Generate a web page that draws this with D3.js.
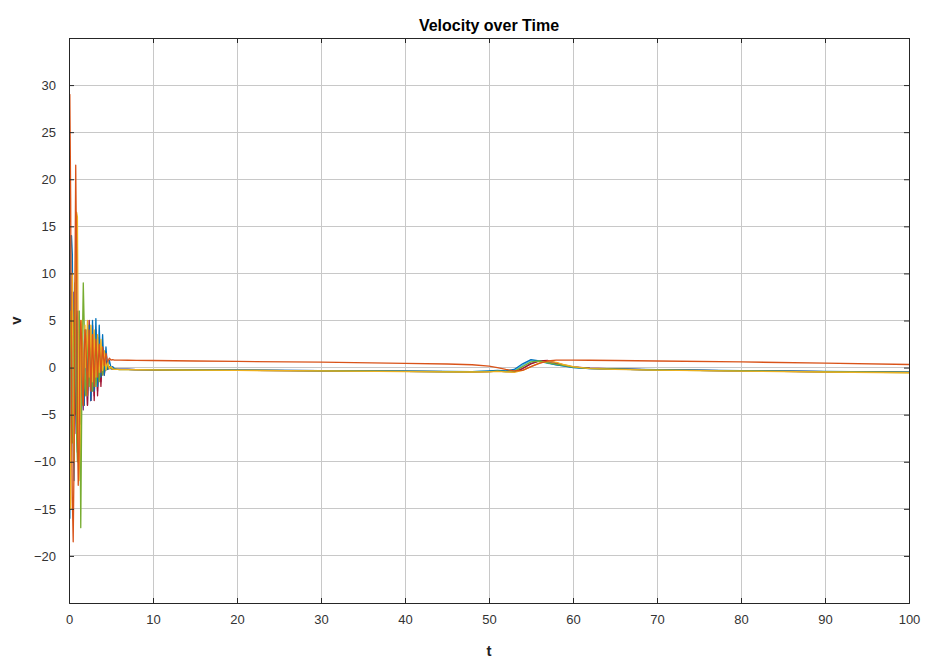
<!DOCTYPE html>
<html>
<head>
<meta charset="utf-8">
<script src="https://cdn.jsdelivr.net/npm/d3@7"></script>
<style>
  html, body { margin: 0; padding: 0; background: #fff; }
  svg { display: block; font-family: "Liberation Sans", Arial, Helvetica, sans-serif; }
</style>
</head>
<body>
<svg id="chart" width="927" height="659"></svg>
<script>
// Sample times: dense during the initial transient, sparse afterwards
const tEarly = [0, 0.1, 0.2, 0.3, 0.4, 0.5, 0.6, 0.7, 0.8, 0.9, 1.0, 1.1, 1.2, 1.3, 1.4, 1.5, 1.6, 1.7, 1.8, 1.9, 2.0,
  2.2, 2.4, 2.6, 2.8, 3.0, 3.2, 3.4, 3.6, 3.8, 4.0, 4.2, 4.4, 4.6, 4.8, 5.0, 5.2, 5.4, 5.6, 5.8, 6.0];
const tLate = [7, 8, 10, 15, 20, 30, 40, 45, 48, 50, 51, 52, 53, 54, 55, 56, 57, 58, 59, 60, 62, 65, 70, 80, 90, 100];

// Velocity of each agent at the sample times above (early part, then late part)
const v1Early = [0, -16, 14, 14, 12, -8, -12, 6, 10, -6, -9, 4, 6, -3, -6, 3, 4, -2, -4, 3, 4,
  -3, 4.5, -3.5, 5, -2.5, 5.2, -2, 4.5, -1, 3.5, -0.8, 2.2, -0.2, 0.8, 0.0, 0.1, -0.1, -0.15, -0.18, -0.2];
const v1Late = [-0.2, -0.21, -0.22, -0.25, -0.27, -0.32, -0.38, -0.41, -0.42, -0.35, -0.3, -0.35, -0.2, 0.4, 0.85, 0.7, 0.5, 0.3, 0.15, 0.0, -0.1, -0.15, -0.22, -0.32, -0.41, -0.48];

const v2Early = [0, 29, 18, -5, -14, -18.5, -10, 8, 21.5, 12, -6, -12.5, -9, 2, 5, 3, -3, -4, 1, 4, 3,
  -3, 4, -2.5, 3.5, -2, 3, -1, 2.5, -0.5, 2.2, 0.2, 1.5, 0.6, 1.0, 0.8, 0.85, 0.8, 0.8, 0.8, 0.8];
const v2Late = [0.78, 0.77, 0.75, 0.7, 0.65, 0.57, 0.45, 0.38, 0.3, 0.15, 0.0, -0.2, -0.35, -0.3, 0.1, 0.45, 0.7, 0.8, 0.8, 0.8, 0.78, 0.75, 0.7, 0.6, 0.47, 0.33];

const v3Early = [0, -12, -15, 6, 10, -4, -10, 4, 14, 16.5, 16, 2, -12, -8, 3, 5, -1, -3, 2, 4.5, 0,
  5, -1, 4.5, -1.5, 4, -1, 3.5, -0.5, 3, -0.3, 1.8, -0.2, 0.6, -0.1, 0.1, -0.15, -0.18, -0.2, -0.2, -0.22];
const v3Late = [-0.22, -0.23, -0.25, -0.28, -0.3, -0.35, -0.42, -0.45, -0.47, -0.45, -0.4, -0.45, -0.5, -0.3, 0.1, 0.5, 0.65, 0.55, 0.3, 0.1, -0.1, -0.2, -0.28, -0.38, -0.47, -0.55];

const v4Early = [0, 5, -8, -4, 6, 8, -2, -7, -3, 5, 6, -2, -5, -1, 4, 4, -3, -4.5, 1, 4, 2,
  -4, 3, -3.5, 3, -3, 2.5, -2.5, 2, -1.5, 1.2, -0.6, 0.6, -0.2, 0.1, -0.1, -0.12, -0.15, -0.17, -0.18, -0.2];
const v4Late = [-0.2, -0.21, -0.23, -0.26, -0.28, -0.33, -0.4, -0.43, -0.44, -0.4, -0.35, -0.4, -0.42, -0.1, 0.45, 0.7, 0.6, 0.4, 0.2, 0.05, -0.08, -0.16, -0.24, -0.34, -0.43, -0.5];

const v5Early = [0, 3, 6, -3, -8, -4, 5, 9, 3, -7, -10, -3, 6, -4, -17, -6, 3, 9, 5, -2, -3,
  4, -2, 3.5, -2.5, 3, -2, 2.5, -1.5, 2, -0.8, 1.2, -0.3, 0.4, -0.1, -0.05, -0.15, -0.18, -0.2, -0.2, -0.22];
const v5Late = [-0.22, -0.22, -0.24, -0.27, -0.29, -0.34, -0.41, -0.44, -0.45, -0.42, -0.38, -0.43, -0.4, 0.1, 0.6, 0.7, 0.5, 0.35, 0.2, 0.05, -0.08, -0.17, -0.26, -0.36, -0.45, -0.52];

const v6Early = [0, -4, 3, 8, 2, -6, -3, 4, 3, -4, -2, 3, 2, -2, -3, 2, 3, -1, -2.5, 1, 2.5,
  -1.5, 3, -1.5, 2.5, -1, 2, -0.5, 1.5, -0.3, 0.8, -0.2, 0.3, -0.1, -0.1, -0.12, -0.14, -0.16, -0.18, -0.19, -0.2];
const v6Late = [-0.2, -0.21, -0.23, -0.26, -0.28, -0.33, -0.39, -0.42, -0.43, -0.38, -0.33, -0.38, -0.3, 0.25, 0.75, 0.65, 0.45, 0.3, 0.15, 0.02, -0.1, -0.16, -0.24, -0.34, -0.43, -0.5];

const v7Early = [0, 2, -3, -6, 1, 5, 2, -4, -5, 0, 4, 3, -3, -4.5, 0, 4, 2, -4, -4, 1, 4,
  -4, 5, -3.5, 4.5, -3.5, 4, -3, 3.2, -2, 2, -0.8, 0.8, -0.2, 0.1, -0.12, -0.15, -0.17, -0.18, -0.2, -0.2];
const v7Late = [-0.2, -0.21, -0.23, -0.26, -0.29, -0.34, -0.4, -0.43, -0.44, -0.42, -0.38, -0.42, -0.45, -0.1, 0.4, 0.7, 0.75, 0.5, 0.25, 0.08, -0.06, -0.15, -0.24, -0.35, -0.44, -0.51];

const seriesColors = ["#0072BD", "#D95319", "#EDB120", "#7E2F8E", "#77AC30", "#4DBEEE", "#A2142F"];
const seriesValues = [
  [v1Early, v1Late], [v2Early, v2Late], [v3Early, v3Late], [v4Early, v4Late],
  [v5Early, v5Late], [v6Early, v6Late], [v7Early, v7Late]
];
// Stacking order of the lines (first drawn sits at the bottom)
const drawOrder = [3, 5, 6, 0, 4, 2, 1];

const xTicks = [0, 10, 20, 30, 40, 50, 60, 70, 80, 90, 100];
const yTicks = [-20, -15, -10, -5, 0, 5, 10, 15, 20, 25, 30];

const titleText = "Velocity over Time";
const xLabelText = "t";
const yLabelText = "v";

const width = 927, height = 659;
const margin = { top: 38, right: 18, bottom: 56, left: 69 };
const innerW = width - margin.left - margin.right;
const innerH = height - margin.top - margin.bottom;

const svg = d3.select("#chart");
const g = svg.append("g").attr("transform", `translate(${margin.left},${margin.top})`);

const x = d3.scaleLinear().domain([0, 100]).range([0, innerW]);
const y = d3.scaleLinear().domain([-25, 35]).range([innerH, 0]);

// Grid
g.append("g").selectAll("line").data(xTicks).join("line")
  .attr("x1", d => x(d)).attr("x2", d => x(d))
  .attr("y1", 0).attr("y2", innerH)
  .attr("stroke", "#c8c8c8").attr("stroke-width", 1).attr("shape-rendering", "crispEdges");
g.append("g").selectAll("line").data(yTicks).join("line")
  .attr("x1", 0).attr("x2", innerW)
  .attr("y1", d => y(d)).attr("y2", d => y(d))
  .attr("stroke", "#c8c8c8").attr("stroke-width", 1).attr("shape-rendering", "crispEdges");

// Series lines
const line = d3.line().x(d => x(d[0])).y(d => y(d[1]));
svg.append("clipPath").attr("id", "plotClip")
  .append("rect").attr("width", innerW).attr("height", innerH);
const linesG = g.append("g").attr("clip-path", "url(#plotClip)");
drawOrder.forEach(i => {
  const pair = seriesValues[i];
  const pts = tEarly.map((t, k) => [t, pair[0][k]]).concat(tLate.map((t, k) => [t, pair[1][k]]));
  linesG.append("path")
    .datum(pts)
    .attr("d", line)
    .attr("fill", "none")
    .attr("stroke", seriesColors[i])
    .attr("stroke-width", 1.3)
    .attr("stroke-linejoin", "round");
});

// Axes (ticks point inward, box around the plot)
const axisColor = "#262626";
const xAxisB = g.append("g").attr("transform", `translate(0,${innerH})`)
  .call(d3.axisBottom(x).tickValues(xTicks).tickSize(-5).tickPadding(12).tickFormat(d3.format("d")));
const xAxisT = g.append("g")
  .call(d3.axisTop(x).tickValues(xTicks).tickSize(-5).tickFormat(""));
const yAxisL = g.append("g")
  .call(d3.axisLeft(y).tickValues(yTicks).tickSize(-5).tickPadding(13).tickFormat(d3.format("d")));
const yAxisR = g.append("g").attr("transform", `translate(${innerW},0)`)
  .call(d3.axisRight(y).tickValues(yTicks).tickSize(-5).tickFormat(""));

[xAxisB, xAxisT, yAxisL, yAxisR].forEach(a => {
  a.select(".domain").attr("stroke", axisColor).attr("stroke-width", 1);
  a.selectAll(".tick line").attr("stroke", axisColor);
  a.selectAll("text").attr("fill", "#333").style("font-size", "13px")
    .style("font-family", "'Liberation Sans', Arial, sans-serif");
});

// Titles
svg.append("text")
  .attr("x", margin.left + innerW / 2).attr("y", 31)
  .attr("text-anchor", "middle")
  .style("font-size", "16px").style("font-weight", "bold").attr("fill", "#000")
  .text(titleText);

svg.append("text")
  .attr("x", margin.left + innerW / 2).attr("y", 656)
  .attr("text-anchor", "middle")
  .style("font-size", "15px").style("font-weight", "bold").attr("fill", "#222")
  .text(xLabelText);

svg.append("text")
  .attr("transform", `translate(21,${margin.top + innerH / 2}) rotate(-90)`)
  .attr("text-anchor", "middle")
  .style("font-size", "15px").style("font-weight", "bold").attr("fill", "#222")
  .text(yLabelText);
</script>
</body>
</html>
